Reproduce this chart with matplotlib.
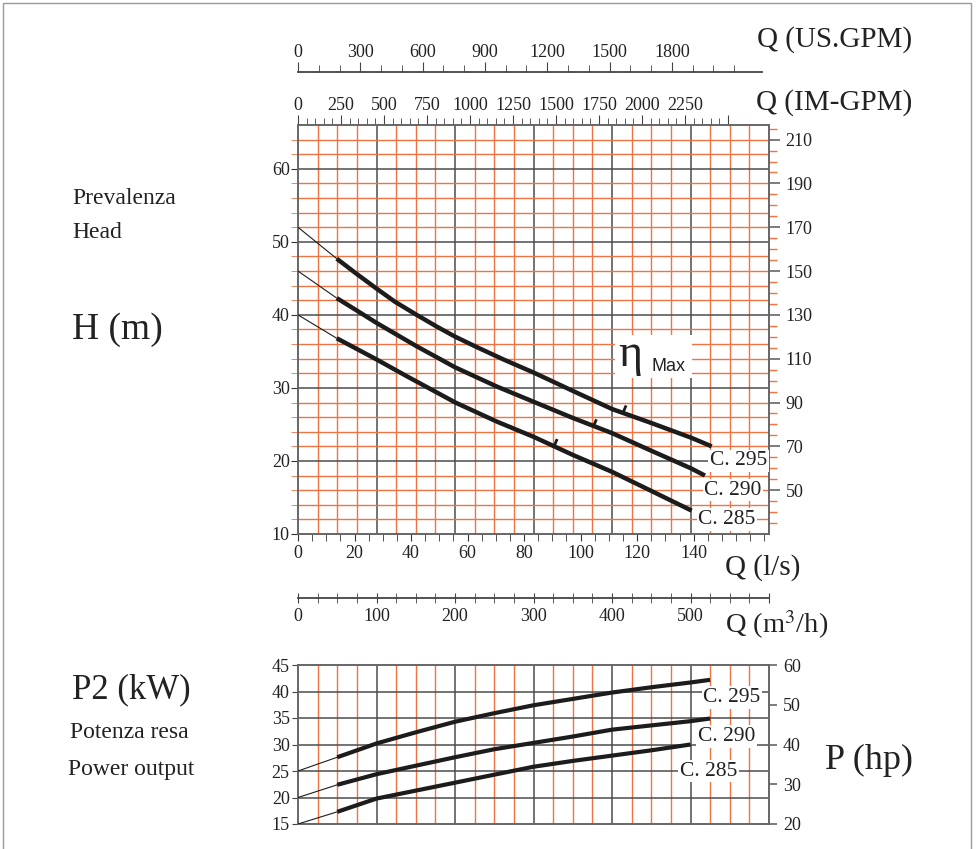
import numpy as np
import matplotlib
matplotlib.use('Agg')
import matplotlib.pyplot as plt
from matplotlib.patches import Rectangle

plt.rcParams['font.family'] = ['Liberation Serif', 'DejaVu Serif']
plt.rcParams['font.size'] = 13
plt.rcParams['mathtext.fontset'] = 'stix'

# ---------------- data ----------------
curve_names = ['C. 295', 'C. 290', 'C. 285']

# Head curves: Q (l/s) -> H (m)
q_h295 = [13.7, 20.8, 27.8, 34.3, 42.0, 49.1, 55.7, 63.2, 72.7, 83.4, 97.2, 111.2, 125.0, 139.0, 146.4]
h_295 = [47.7, 45.6, 43.6, 41.8, 40.0, 38.4, 37.0, 35.6, 33.9, 32.1, 29.6, 27.1, 25.2, 23.2, 22.0]
q_h290 = [13.7, 20.8, 27.8, 42.0, 49.1, 55.7, 70.3, 83.4, 97.2, 111.2, 125.0, 139.0, 144.0]
h_290 = [42.3, 40.6, 38.9, 35.7, 34.2, 32.8, 30.2, 28.1, 25.9, 23.8, 21.4, 19.0, 18.0]
q_h285 = [13.7, 27.8, 38.5, 55.7, 70.3, 83.4, 97.4, 111.2, 125.0, 139.3]
h_285 = [36.8, 33.9, 31.6, 28.0, 25.4, 23.3, 20.8, 18.5, 15.9, 13.2]
h_at_zero = [52, 46, 40]

# efficiency marks (Q l/s, H m)
eta_q = [115.0, 104.5, 90.6]
eta_h = [26.6, 24.7, 22.0]

# Power curves: Q (l/s) -> P2 (kW)
q_p295 = [13.9, 27.8, 41.7, 55.6, 69.4, 83.3, 97.2, 111.1, 125.0, 138.9, 145.8]
p_295 = [27.6, 30.2, 32.3, 34.3, 35.9, 37.4, 38.6, 39.8, 40.8, 41.7, 42.2]
q_p290 = [13.9, 27.8, 41.7, 55.6, 69.4, 83.3, 97.2, 111.1, 125.0, 138.9, 145.8]
p_290 = [22.4, 24.4, 26.0, 27.6, 29.1, 30.3, 31.5, 32.8, 33.6, 34.4, 34.9]
q_p285 = [13.9, 27.8, 41.7, 55.6, 69.4, 83.3, 97.2, 111.1, 125.0, 138.9]
p_285 = [17.3, 19.8, 21.3, 22.8, 24.3, 25.8, 26.9, 27.9, 28.9, 30.0]
p_at_zero = [25, 20, 15]

# tick labels
ls_ticks = [0, 20, 40, 60, 80, 100, 120, 140]
m3h_ticks = [0, 100, 200, 300, 400, 500]
us_ticks = [0, 300, 600, 900, 1200, 1500, 1800]
im_ticks = [0, 250, 500, 750, 1000, 1250, 1500, 1750, 2000, 2250]
h_ticks = [10, 20, 30, 40, 50, 60]
ft_ticks = [50, 70, 90, 110, 130, 150, 170, 190, 210]
kw_ticks = [15, 20, 25, 30, 35, 40, 45]
hp_ticks = [20, 30, 40, 50, 60]

# ---------------- style ----------------
DARK = '#4d4d4d'
ORANGE = '#ef7444'
INK = '#1c1c1c'
TXT = '#222222'
TS = 13
W, H = 976, 849

fig = plt.figure(figsize=(W / 100, H / 100), dpi=100)
fig.patch.set_facecolor('white')


def px_rect(x0, y0, x1, y1):
    return [x0 / W, 1 - y1 / H, (x1 - x0) / W, (y1 - y0) / H]


# unit conversions (as drawn on the chart)
ls2m3h = (lambda q: np.asarray(q) * 3.6, lambda m: np.asarray(m) / 3.6)
ls2us = (lambda q: np.asarray(q) * 3.6 / 0.2646, lambda v: np.asarray(v) * 0.2646 / 3.6)
ls2im = (lambda q: np.asarray(q) * 3.6 / 0.2191, lambda v: np.asarray(v) * 0.2191 / 3.6)
h2ft = (lambda h: (np.asarray(h) - 1.0) / 0.3, lambda f: np.asarray(f) * 0.3 + 1.0)
kw2hp = (lambda p: (np.asarray(p) - 15.0) / 0.75 + 20.0, lambda hp: (np.asarray(hp) - 20.0) * 0.75 + 15.0)

QMAX = 600 / 3.6

# ================= main H-Q chart =================
ax = fig.add_axes(px_rect(298, 125, 769, 534))
ax.set_xlim(0, QMAX)
ax.set_ylim(10, 66)

for m in np.arange(25, 600, 25):
    ax.axvline(m / 3.6, color=DARK if m % 100 == 0 else ORANGE,
               lw=1.1 if m % 100 == 0 else 1.0, zorder=1)
for hh in np.arange(12, 66, 2):
    ax.axhline(hh, color=DARK if hh % 10 == 0 else ORANGE,
               lw=1.1 if hh % 10 == 0 else 1.0, zorder=1)

for s in ax.spines.values():
    s.set_color('#666666')
    s.set_linewidth(1.4)

ax.set_xticks(ls_ticks)
ax.set_xticklabels([str(v) for v in ls_ticks])
ax.set_xticks(np.arange(0, 166, 5), minor=True)
ax.tick_params(axis='x', which='both', direction='out', length=5, color='#333333',
               labelsize=TS, pad=3, labelcolor=TXT)

ax.set_yticks(h_ticks)
ax.set_yticklabels([str(v) for v in h_ticks])
ax.set_yticks(np.arange(12, 66, 2), minor=True)
ax.tick_params(axis='y', which='major', direction='out', length=5, color='#333333',
               labelsize=TS, pad=1, labelcolor=TXT)
ax.tick_params(axis='y', which='minor', direction='out', length=5, color=ORANGE)

# right: feet
secr = ax.secondary_yaxis('right', functions=h2ft)
secr.set_yticks(ft_ticks)
secr.set_yticklabels([str(v) for v in ft_ticks])
secr.set_yticks(np.arange(35, 216, 5), minor=True)
secr.tick_params(which='major', direction='out', length=8, width=1.2, color='#666666',
                 labelsize=TS, pad=4, labelcolor=TXT)
secr.tick_params(which='minor', direction='out', length=6, width=1.0, color=ORANGE)
secr.spines['right'].set_visible(False)

# top: IM-GPM
secim = ax.secondary_xaxis('top', functions=ls2im)
secim.set_xticks(im_ticks + [2500])
secim.set_xticklabels([str(v) for v in im_ticks] + [''])
secim.set_xticks(np.arange(0, 2501, 50), minor=True)
secim.tick_params(which='major', direction='out', length=7, color='#444444',
                  labelsize=TS, pad=1, labelcolor=TXT)
secim.tick_params(which='minor', direction='out', length=5, color='#444444')
secim.spines['top'].set_visible(False)

# top: US GPM (separate line above)
secus = ax.secondary_xaxis((534 - 72) / 409, functions=ls2us)
secus.set_xticks(us_ticks)
secus.set_xticklabels([str(v) for v in us_ticks])
secus.set_xticks(np.arange(0, 2101, 100), minor=True)
secus.tick_params(which='major', direction='out', length=7, color='#444444',
                  labelsize=TS, pad=1, labelcolor=TXT)
secus.tick_params(which='minor', direction='out', length=5, color='#444444')
secus.spines['top'].set_color('#444444')
secus.spines['top'].set_linewidth(1.3)
secus.spines['top'].set_bounds(0, 2234)

# bottom: m3/h line
secm = ax.secondary_xaxis((534 - 598) / 409, functions=ls2m3h)
secm.set_xticks(m3h_ticks + [600])
secm.set_xticklabels([str(v) for v in m3h_ticks] + [''])
secm.set_xticks(np.arange(0, 601, 25), minor=True)
secm.tick_params(which='both', direction='inout', length=7, color='#444444',
                 labelsize=TS, pad=4, labelcolor=TXT)
secm.spines['bottom'].set_color('#444444')
secm.spines['bottom'].set_linewidth(1.3)

# head curves
head_sets = [(q_h295, h_295), (q_h290, h_290), (q_h285, h_285)]
for (qq, hh), h0 in zip(head_sets, h_at_zero):
    ax.plot([0, qq[0]], [h0, hh[0]], color=INK, lw=0.8, zorder=4, solid_capstyle='butt')
    ax.plot(qq, hh, color=INK, lw=3.2, zorder=5, solid_capstyle='butt', solid_joinstyle='round')

# efficiency hooks
for qe, he in zip(eta_q, eta_h):
    ax.plot([qe, qe + 1.1], [he, he + 1.0], color=INK, lw=2.0, zorder=6, solid_capstyle='butt')

# eta max box
ax.add_patch(Rectangle((112.2, 31.3), 27.1, 5.9, facecolor='white', edgecolor='none', zorder=3))
ax.text(117.5, 34.6, 'η', fontsize=33, ha='center', va='center', color=TXT, zorder=7,
        family=['Liberation Serif', 'DejaVu Serif'])
ax.text(131.0, 32.9, 'Max', fontsize=13, ha='center', va='center', color=TXT, zorder=7,
        family=['Liberation Sans', 'DejaVu Sans'])

# curve labels
for name, (xq, yh) in zip(curve_names, [(155.8, 20.0), (153.9, 16.0), (151.8, 12.0)]):
    ax.text(xq, yh, name, fontsize=15.5, ha='center', va='center', color=TXT, zorder=7,
            bbox=dict(boxstyle='square,pad=0.08', facecolor='white', edgecolor='none'))

# ================= power chart =================
bx = fig.add_axes(px_rect(298, 665, 769, 824))
bx.set_xlim(0, QMAX)
bx.set_ylim(15, 45)
for m in np.arange(25, 600, 25):
    bx.axvline(m / 3.6, color=DARK if m % 100 == 0 else ORANGE,
               lw=1.1 if m % 100 == 0 else 1.0, zorder=1)
for pp in kw_ticks[1:-1]:
    bx.axhline(pp, color=DARK, lw=1.1, zorder=1)
for s in bx.spines.values():
    s.set_color('#666666')
    s.set_linewidth(1.4)
bx.set_xticks([])
bx.set_yticks(kw_ticks)
bx.set_yticklabels([str(v) for v in kw_ticks])
bx.tick_params(axis='y', direction='out', length=4, color='#444444', labelsize=TS, pad=2,
               labelcolor=TXT)

sechp = bx.secondary_yaxis('right', functions=kw2hp)
sechp.set_yticks(hp_ticks)
sechp.set_yticklabels([str(v) for v in hp_ticks])
sechp.tick_params(direction='out', length=6, width=1.2, color='#666666', labelsize=TS, pad=4,
                  labelcolor=TXT)
sechp.spines['right'].set_visible(False)

power_sets = [(q_p295, p_295), (q_p290, p_290), (q_p285, p_285)]
for (qq, pp), p0 in zip(power_sets, p_at_zero):
    bx.plot([0, qq[0]], [p0, pp[0]], color=INK, lw=0.8, zorder=4)
    bx.plot(qq, pp, color=INK, lw=3.0, zorder=5, solid_capstyle='butt')

for name, (xq, yp) in zip(curve_names, [(153.6, 38.9), (151.7, 31.5), (145.3, 25.0)]):
    bx.text(xq, yp, name, fontsize=15.5, ha='center', va='center', color=TXT, zorder=7,
            bbox=dict(boxstyle='square,pad=0.08', facecolor='white', edgecolor='none'))

# ================= free texts =================
fig.text(912 / W, 1 - 40 / H, 'Q (US.GPM)', fontsize=21, ha='right', va='center', color=TXT)
fig.text(912 / W, 1 - 103 / H, 'Q (IM-GPM)', fontsize=21, ha='right', va='center', color=TXT)
fig.text(725 / W, 1 - 568 / H, 'Q (l/s)', fontsize=21, ha='left', va='center', color=TXT)
fig.text(725 / W, 1 - 625 / H, 'Q (m$^3$/h)', fontsize=20.5, ha='left', va='center', color=TXT)

fig.text(72 / W, 1 - 198 / H, 'Prevalenza', fontsize=17, ha='left', va='center', color=TXT)
fig.text(72 / W, 1 - 233 / H, 'Head', fontsize=17, ha='left', va='center', color=TXT)
fig.text(72 / W, 1 - 330 / H, 'H (m)', fontsize=27, ha='left', va='center', color=TXT)
fig.text(72 / W, 1 - 690 / H, 'P2 (kW)', fontsize=25, ha='left', va='center', color=TXT)
fig.text(70 / W, 1 - 733 / H, 'Potenza resa', fontsize=17, ha='left', va='center', color=TXT)
fig.text(68 / W, 1 - 770 / H, 'Power output', fontsize=17, ha='left', va='center', color=TXT)
fig.text(825 / W, 1 - 760 / H, 'P (hp)', fontsize=26, ha='left', va='center', color=TXT)

# outer frame
fig.add_artist(Rectangle((3 / W, -0.05), (971 - 3) / W, 1.05 - 3 / H, transform=fig.transFigure,
                         fill=False, edgecolor='#999999', lw=1.0))

fig.savefig('out.png', dpi=100, facecolor='white')
